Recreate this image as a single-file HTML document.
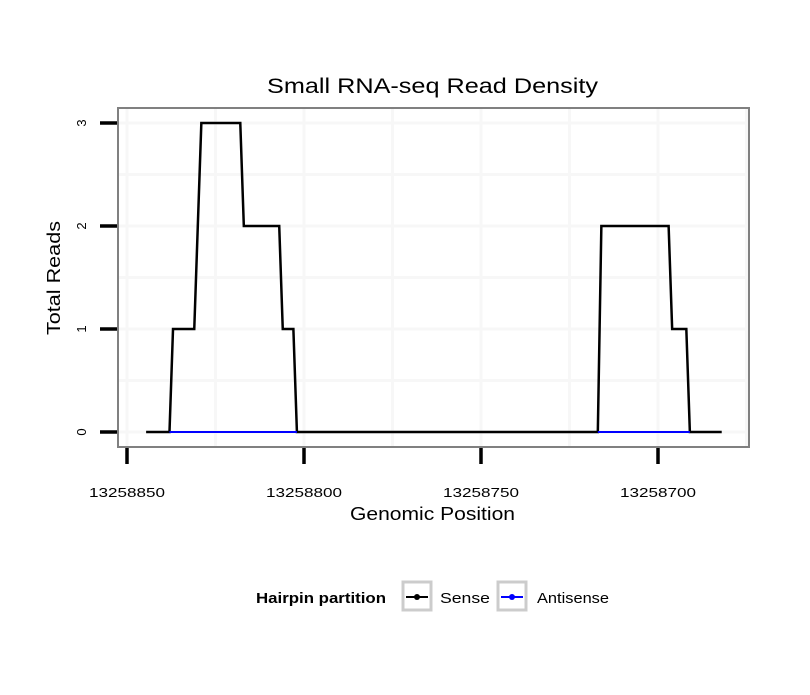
<!DOCTYPE html>
<html><head><meta charset="utf-8"><style>
body{margin:0;background:#fff;font-family:"Liberation Sans",sans-serif}
</style></head><body>
<svg id="chart" width="810" height="690" xmlns="http://www.w3.org/2000/svg" font-family="Liberation Sans, sans-serif">
<rect width="810" height="690" fill="#fff"/>
<text x="267" y="93" font-size="21" textLength="331" lengthAdjust="spacingAndGlyphs">Small RNA-seq Read Density</text>
<g id="grid"></g>
<g id="series"></g>
<rect x="118" y="108" width="631" height="339" fill="none" stroke="#808080" stroke-width="2"/>
<g id="axes"></g>
<text x="350" y="520" font-size="18" textLength="165" lengthAdjust="spacingAndGlyphs">Genomic Position</text>
<text transform="translate(60,335) rotate(-90)" font-size="18" textLength="114" lengthAdjust="spacingAndGlyphs">Total Reads</text>
<g>
<text x="256" y="603" font-size="15" font-weight="bold" textLength="130" lengthAdjust="spacingAndGlyphs">Hairpin partition</text>
<g>
<rect x="403" y="582" width="28" height="28" fill="#fff" stroke="#ccc" stroke-width="3"/>
<line x1="406" y1="597" x2="428" y2="597" stroke="#000" stroke-width="2"/>
<circle cx="417" cy="597" r="3" fill="#000"/>
<text x="440" y="603" font-size="15" textLength="50" lengthAdjust="spacingAndGlyphs">Sense</text></g>
<g>
<rect x="498" y="582" width="28" height="28" fill="#fff" stroke="#ccc" stroke-width="3"/>
<line x1="501" y1="597" x2="523" y2="597" stroke="#00f" stroke-width="2"/>
<circle cx="512" cy="597" r="3" fill="#00f"/>
<text x="537" y="603" font-size="15" textLength="72" lengthAdjust="spacingAndGlyphs">Antisense</text></g>
</g>
</svg>
<script>
const senseX=[13258844.6,13258838,13258837,13258831,13258829,13258818,13258817,13258807,13258806,13258803,13258802,13258717,13258716,13258697,13258696,13258692,13258691,13258682];
const senseY=[0,0,1,1,3,3,2,2,1,1,0,0,2,2,1,1,0,0];
const antiSegs=[[13258838,13258802],[13258717,13258691]];
const xTicks=[13258850,13258800,13258750,13258700];
const yTicks=[0,1,2,3];
const NS="http://www.w3.org/2000/svg";
const xs=p=>127+(13258850-p)*3.54;
const ys=v=>432-v*103;
function mk(t,a,parent){const e=document.createElementNS(NS,t);for(const k in a)e.setAttribute(k,a[k]);document.getElementById(parent).appendChild(e);return e;}
for(let i=0;i<7;i++){const v=i*0.5;const g=mk('line',{x1:119,x2:748,y1:ys(v),y2:ys(v),stroke:'#f7f7f7','stroke-width':3},'grid');

}
for(let p=13258850;p>=13258675;p-=25){const x=xs(p);if(x<119||x>748)continue;const g=mk('line',{x1:x,x2:x,y1:109,y2:446,stroke:'#f7f7f7','stroke-width':3},'grid');

}
const sl=mk('polyline',{points:senseX.map((p,i)=>xs(p)+','+ys(senseY[i])).join(' '),fill:'none',stroke:'#000','stroke-width':2.5},'series');


antiSegs.forEach(s=>{const l=mk('line',{x1:xs(s[0]),x2:xs(s[1]),y1:ys(0),y2:ys(0),stroke:'#00f','stroke-width':2},'series');

});
yTicks.forEach(v=>{const t=mk('line',{x1:100,x2:117,y1:ys(v),y2:ys(v),stroke:'#000','stroke-width':3.5},'axes');


const l=mk('text',{transform:`translate(86,${ys(v)}) rotate(-90)`,'font-size':13,'text-anchor':'middle'},'axes');l.textContent=v;

});
xTicks.forEach(p=>{const t=mk('line',{x1:xs(p),x2:xs(p),y1:448,y2:464,stroke:'#000','stroke-width':3.5},'axes');


const l=mk('text',{x:xs(p)-38,y:497,'font-size':13,textLength:76,lengthAdjust:'spacingAndGlyphs'},'axes');l.textContent=p;

});
</script>
</body></html>
